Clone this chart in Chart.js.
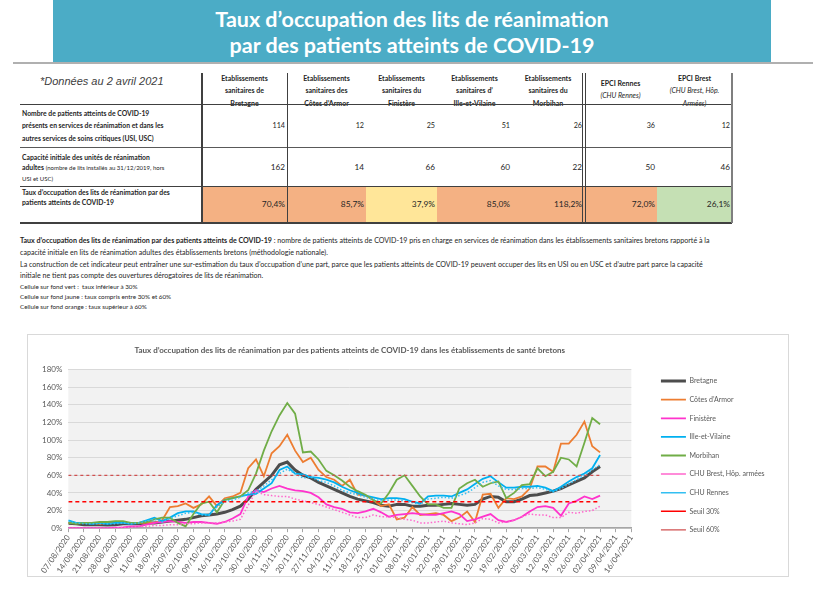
<!DOCTYPE html>
<html lang="fr">
<head>
<meta charset="utf-8">
<title>Taux d'occupation des lits de réanimation</title>
<script src="https://cdn.jsdelivr.net/npm/chart.js@4.4.1/dist/chart.umd.min.js"></script>
<style>
  html, body { margin: 0; padding: 0; background: #fff; }
  body { width: 820px; height: 600px; position: relative; overflow: hidden; font-family: Lato, "Open Sans", sans-serif; color: #262626; }
  .abs { position: absolute; white-space: nowrap; }
  #banner { left: 53px; top: 0; width: 718px; height: 62px; background: #4bacc6; color: #fff; font-weight: bold; font-size: 21.5px; text-align: center; line-height: 26px; padding-top: 6px; box-sizing: border-box; }
  #rule { left: 13px; top: 62px; width: 800px; height: 2px; background: #b0b0b0; }
  #donnees { left: 40px; top: 75px; font: italic 11px "Liberation Sans", Arial, sans-serif; color: #404040; }
  .note { left: 20px; font-size: 7.1px; line-height: 11px; color: #262626; }
  .small { font-size: 6.3px; }
  #chartBox { left: 27px; top: 334px; width: 762px; height: 243px; border: 1px solid #d9d9d9; box-sizing: border-box; }
</style>
</head>
<body>
<div id="banner" class="abs">Taux d’occupation des lits de réanimation<br>par des patients atteints de COVID-19</div>
<div id="rule" class="abs"></div>
<div id="donnees" class="abs">*Données au 2 avril 2021</div>
<div id="table"></div>

<div class="abs note" style="top:235px"><b>Taux d’occupation des lits de réanimation par des patients atteints de COVID-19</b> : nombre de patients atteints de COVID-19 pris en charge en services de réanimation dans les établissements sanitaires bretons rapporté à la</div>
<div class="abs note" style="top:247px">capacité initiale en lits de réanimation adultes des établissements bretons (méthodologie nationale).</div>
<div class="abs note" style="top:259px">La construction de cet indicateur peut entraîner une sur-estimation du taux d’occupation d’une part, parce que les patients atteints de COVID-19 peuvent occuper des lits en USI ou en USC et d’autre part parce la capacité</div>
<div class="abs note" style="top:270px">initiale ne tient pas compte des ouvertures dérogatoires de lits de réanimation.</div>
<div class="abs note small" style="top:281px">Cellule sur fond vert :&nbsp; taux inférieur à 30%</div>
<div class="abs note small" style="top:291px">Cellule sur fond jaune : taux compris entre 30% et 60%</div>
<div class="abs note small" style="top:301px">Cellule sur fond orange : taux supérieur à 60%</div>

<div id="chartBox" class="abs"><canvas id="chart"></canvas></div>

<script>
// ---- table data ----
const colHeads = [
  ["Etablissements", "sanitaires de", "Bretagne"],
  ["Etablissements", "sanitaires des", "Côtes d’Armor"],
  ["Etablissements", "sanitaires du", "Finistère"],
  ["Etablissements", "sanitaires d’", "Ille-et-Vilaine"],
  ["Etablissements", "sanitaires du", "Morbihan"],
  ["EPCI Rennes", "(CHU Rennes)"],
  ["EPCI Brest", "(CHU Brest, Hôp.", "Armées)"]
];
const patients = [114, 12, 25, 51, 26, 36, 12];
const capacite = [162, 14, 66, 60, 22, 50, 46];
const tauxOccupation = [70.4, 85.7, 37.9, 85.0, 118.2, 72.0, 26.1];

// ---- chart data (half-week samples from 07/08/2020 to 02/04/2021) ----
const weekLabels = [
  "07/08/2020", "14/08/2020", "21/08/2020", "28/08/2020", "04/09/2020", "11/09/2020",
  "18/09/2020", "25/09/2020", "02/10/2020", "09/10/2020", "16/10/2020", "23/10/2020",
  "30/10/2020", "06/11/2020", "13/11/2020", "20/11/2020", "27/11/2020", "04/12/2020",
  "11/12/2020", "18/12/2020", "25/12/2020", "01/01/2021", "08/01/2021", "15/01/2021",
  "22/01/2021", "29/01/2021", "05/02/2021", "12/02/2021", "19/02/2021", "26/02/2021",
  "05/03/2021", "12/03/2021", "19/03/2021", "26/03/2021", "02/04/2021", "09/04/2021",
  "16/04/2021"
];
const sampleWeeks = [
  0, 0.5, 1, 1.5, 2, 2.5, 3, 3.5, 4, 4.5, 5, 5.5, 6, 6.5, 7, 7.5, 8, 8.5, 9, 9.5,
  10, 10.5, 11, 11.5, 12, 12.5, 13, 13.5, 14, 14.5, 15, 15.5, 16, 16.5, 17, 17.5, 18, 18.5, 19, 19.5,
  20, 20.5, 21, 21.5, 22, 22.5, 23, 23.5, 24, 24.5, 25, 25.5, 26, 26.5, 27, 27.5, 28, 28.5, 29, 29.5,
  30, 30.5, 31, 31.5, 32, 32.5, 33, 33.5, 34
];
const bretagne = [
  5.5, 5, 4, 4, 4, 3.5, 4, 5, 5, 5,
  6, 6, 7, 8, 9, 10, 12, 14, 15, 16,
  18, 21, 25, 33, 44, 52, 60, 72, 75, 66,
  60, 57, 52, 48, 44, 40, 36, 33, 31, 29,
  26, 25, 27, 27, 25, 25, 26, 26, 27, 28,
  27, 26, 27, 33, 36, 35, 30, 30, 33, 37,
  38, 40, 42, 45, 49, 53, 57, 64, 70
];
const cotesArmor = [
  6, 6, 6, 6, 5, 6, 7, 6, 6, 6,
  6, 6, 9, 24, 25, 28, 23, 27, 36, 25,
  34, 36, 40, 68, 78, 59, 85, 93, 106, 88,
  75, 80, 66, 58, 55, 48, 55, 38, 37, 32,
  25, 27, 10, 12, 24, 15, 16, 17, 15, 8,
  12, 19, 7, 38, 39, 23, 34, 33, 36, 45,
  70, 70, 64, 96, 96, 106, 121, 93, 86
];
const finistere = [
  0, 0, 0, 0, 0, 0, 0.5, 1, 2, 2,
  4, 6, 7, 8, 7, 6, 7, 7, 6, 5,
  7, 11, 16, 36, 43, 41, 45, 48, 45, 43,
  42, 40, 35, 27, 24, 22, 18, 17, 19, 22,
  18, 13, 15, 16, 17, 16, 15, 15, 17, 19,
  16, 8, 10, 13, 16, 9, 7, 9, 13, 19,
  24, 25, 23, 14, 28, 31, 36, 33, 37
];
const illeEtVilaine = [
  9, 6, 6, 5, 6, 5, 6, 6, 5, 6,
  9, 12, 8, 12, 17, 19, 19, 16, 15, 26,
  32, 34, 36, 38, 39, 45, 51, 66, 70, 62,
  61, 58, 57, 55, 52, 47, 43, 40, 37, 35,
  33, 34, 34, 33, 30, 28, 36, 37, 37, 36,
  40, 44, 50, 56, 59, 52, 46, 46, 47, 47,
  48, 46, 42, 47, 53, 58, 62, 68, 83
];
const morbihan = [
  6, 5, 6, 6, 7, 7, 8, 8, 6, 6,
  7, 10, 12, 12, 6, 2, 16, 28, 30, 18,
  32, 34, 36, 43, 62, 88, 110, 128, 142, 130,
  86, 87, 78, 65, 60, 54, 47, 42, 38, 32,
  28, 40, 55, 60, 48, 36, 27, 27, 23, 23,
  45, 51, 55, 47, 51, 53, 34, 40, 49, 50,
  68, 59, 64, 80, 78, 70, 97, 125, 118
];
const chuBrest = [
  0, 0, 0, 0, 0, 0, 0, 1, 1, 2,
  2, 3, 3, 4, 4, 5, 5, 6, 6, 6,
  7, 8, 10, 26, 42, 38, 37, 36, 36, 33,
  31, 29, 27, 24, 21, 18, 15, 12, 12, 15,
  13, 13, 12, 10, 9, 6, 6, 7, 8, 6,
  5, 4, 6, 11, 10, 6, 7, 9, 13, 16,
  15, 15, 12, 12, 18, 17, 19, 20, 25
];
const chuRennes = [
  8, 6, 5, 5, 5, 5, 5, 6, 5, 6,
  8, 10, 7, 11, 14, 17, 18, 15, 15, 24,
  30, 32, 35, 40, 42, 48, 55, 62, 67, 62,
  57, 58, 54, 52, 48, 43, 40, 38, 35, 33,
  31, 32, 32, 31, 29, 27, 33, 34, 35, 34,
  37, 40, 46, 52, 54, 48, 44, 44, 45, 45,
  46, 44, 41, 45, 50, 55, 60, 66, 72
];
const seuil30 = 30;
const seuil60 = 60;
const yTicks = [0, 20, 40, 60, 80, 100, 120, 140, 160, 180];

// ---- table drawing ----
const colEdges = [202, 287, 366, 437, 512, 584, 657, 732];
const table = document.getElementById('table');
function put(html, style) {
  const d = document.createElement('div');
  d.className = 'abs';
  d.innerHTML = html;
  Object.assign(d.style, style);
  table.appendChild(d);
}
function cellColor(v) {
  if (v < 30) return '#c5e0b4';
  if (v <= 60) return '#ffe699';
  return '#f4b183';
}
const fmt = v => v.toFixed(1).replace('.', ',') + '%';

colHeads.forEach((lines, i) => {
  const x0 = colEdges[i], w = colEdges[i + 1] - colEdges[i];
  put('', {left: x0 + 'px', top: '186px', width: w + 'px', height: '36px', background: cellColor(tauxOccupation[i])});
  let html;
  if (i >= 5) {
    html = '<b>' + lines[0] + '</b><br><i>' + lines.slice(1).join('<br>') + '</i>';
  } else {
    html = '<b>' + lines.join('<br>') + '</b>';
  }
  const lh = i === 5 ? 11.5 : 12.3;
  const top = i === 5 ? 78 : 72;
  put(html, {left: x0 + 'px', top: top + 'px', width: w + 'px', textAlign: 'center',
             fontSize: '7px', lineHeight: lh + 'px', color: '#262626', whiteSpace: 'normal'});
  const valStyle = (t, fs) => ({left: x0 + 'px', top: t + 'px', width: (w - 2) + 'px', textAlign: 'right', fontSize: fs + 'px', lineHeight: '12px', color: '#262626'});
  put(String(patients[i]), valStyle(120, 7.2));
  put(String(capacite[i]), valStyle(161, 8.2));
  put(fmt(tauxOccupation[i]), valStyle(198, 8.4));
});

put('<b>Nombre de patients atteints de COVID-19<br>présents en services de réanimation et dans les<br>autres services de soins critiques (USI, USC)</b>',
    {left: '22px', top: '107px', fontSize: '6.8px', lineHeight: '12.4px'});
put('<b>Capacité initiale des unités de réanimation<br>adultes</b> <span style="font-size:6px">(nombre de lits installés au 31/12/2019, hors<br>USI et USC)</span>',
    {left: '22px', top: '152px', fontSize: '6.8px', lineHeight: '10px'});
put('<b>Taux d’occupation des lits de réanimation par des<br>patients atteints de COVID-19</b>',
    {left: '22px', top: '187px', fontSize: '6.8px', lineHeight: '10px'});

// table rules
const hLine = (y, h, c) => put('', {left: '20px', top: y + 'px', width: '712px', height: h + 'px', background: c});
hLine(104, 1, '#404040');
hLine(147, 1, '#595959');
hLine(186, 1, '#404040');
hLine(222, 1.5, '#404040');
const vLine = (x, w, c) => put('', {left: x + 'px', top: '73px', width: w + 'px', height: '150px', background: c});
vLine(201, 2, '#404040');
vLine(287, 1, '#404040');
vLine(582, 1, '#404040');
vLine(585, 1, '#404040');
vLine(731, 2, '#7f7f7f');

// ---- chart ----
Chart.defaults.font.family = 'Lato, "Open Sans", sans-serif';
Chart.defaults.color = '#595959';

const plotBg = {
  id: 'plotBg',
  beforeDraw(chart) {
    const {ctx, chartArea: a} = chart;
    ctx.save();
    ctx.fillStyle = '#f2f2f2';
    ctx.fillRect(a.left, a.top, a.right - a.left, a.bottom - a.top);
    ctx.restore();
  }
};

const toPoints = vals => sampleWeeks.map((w, i) => ({x: w, y: vals[i]}));
const lastWeek = sampleWeeks[sampleWeeks.length - 1];

const series = [
  {label: 'Bretagne', data: toPoints(bretagne), borderColor: '#4d4d4d', borderWidth: 3},
  {label: 'Côtes d’Armor', data: toPoints(cotesArmor), borderColor: '#ed7d31', borderWidth: 1.8},
  {label: 'Finistère', data: toPoints(finistere), borderColor: '#ff33cc', borderWidth: 1.8},
  {label: 'Ille-et-Vilaine', data: toPoints(illeEtVilaine), borderColor: '#00b0f0', borderWidth: 1.8},
  {label: 'Morbihan', data: toPoints(morbihan), borderColor: '#70ad47', borderWidth: 1.8},
  {label: 'CHU Brest, Hôp. armées', data: toPoints(chuBrest), borderColor: '#ff66cc', borderWidth: 1.5, borderDash: [1.5, 2]},
  {label: 'CHU Rennes', data: toPoints(chuRennes), borderColor: '#33bff2', borderWidth: 1.5, borderDash: [1.5, 2]},
  {label: 'Seuil 30%', data: [{x: 0, y: seuil30}, {x: lastWeek, y: seuil30}], borderColor: '#ff0000', borderWidth: 1.5, borderDash: [4, 3]},
  {label: 'Seuil 60%', data: [{x: 0, y: seuil60}, {x: lastWeek, y: seuil60}], borderColor: '#d05050', borderWidth: 1.2, borderDash: [3, 3]}
];

new Chart(document.getElementById('chart'), {
  type: 'line',
  data: {
    datasets: series.map((s, i) => ({
      ...s,
      backgroundColor: s.borderColor,
      pointRadius: 0,
      tension: 0,
      fill: false,
      yAxisID: 'y',
      order: series.length - i
    }))
  },
  options: {
    responsive: true,
    maintainAspectRatio: false,
    animation: false,
    layout: {padding: {left: 8, right: 16, top: 0, bottom: 0}},
    scales: {
      x: {
        type: 'linear',
        min: 0,
        max: weekLabels.length - 1,
        grid: {drawOnChartArea: false, drawTicks: true, tickLength: 4, color: '#a6a6a6'},
        border: {color: '#a6a6a6', width: 1.5},
        ticks: {
          stepSize: 1,
          maxTicksLimit: 60,
          autoSkip: false,
          minRotation: 55,
          maxRotation: 55,
          padding: 1,
          font: {size: 8},
          callback: v => weekLabels[v] ?? ''
        }
      },
      y: {
        min: yTicks[0],
        max: yTicks[yTicks.length - 1],
        grid: {color: '#d9d9d9', drawTicks: false},
        border: {display: false},
        ticks: {stepSize: 20, padding: 6, font: {size: 8}, callback: v => v + '%'}
      },
      gap: {
        type: 'linear',
        position: 'right',
        display: true,
        grid: {display: false},
        border: {display: false},
        ticks: {display: false},
        afterFit: s => { s.width = 18; }
      }
    },
    plugins: {
      title: {
        display: true,
        fullSize: false,
        text: 'Taux d’occupation des lits de réanimation par des patients atteints de COVID-19 dans les établissements de santé bretons',
        color: '#595959',
        font: {size: 8, weight: 'bold'},
        padding: {top: 11, bottom: 14}
      },
      legend: {
        position: 'right',
        labels: {
          usePointStyle: true,
          pointStyle: 'line',
          pointStyleWidth: 25,
          color: '#595959',
          font: {size: 7},
          padding: 11.6,
          sort: (a, b) => a.datasetIndex - b.datasetIndex
        }
      },
      tooltip: {enabled: false}
    }
  },
  plugins: [plotBg]
});
</script>
</body>
</html>
